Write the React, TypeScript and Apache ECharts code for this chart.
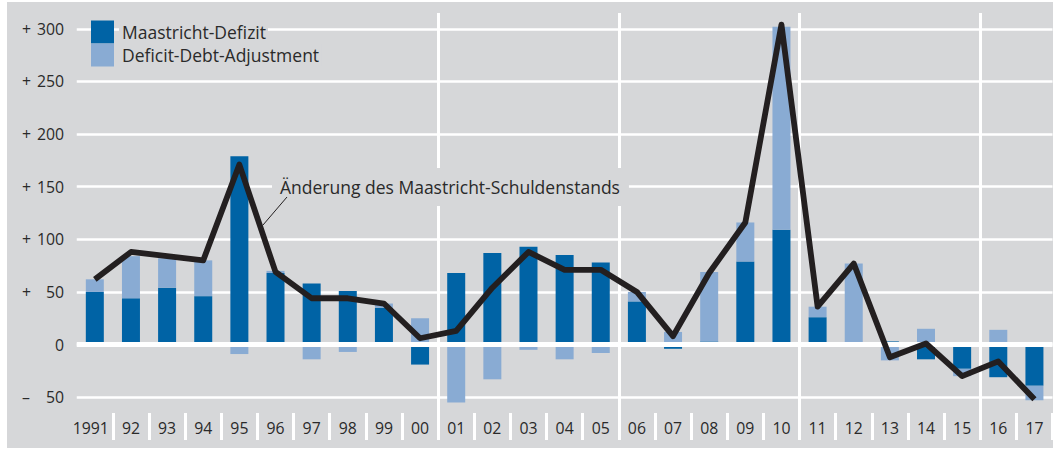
import React, { useEffect, useRef } from 'react';
import * as echarts from 'echarts';

const years = ['1991', '92', '93', '94', '95', '96', '97', '98', '99', '00', '01', '02', '03', '04', '05', '06', '07', '08', '09', '10', '11', '12', '13', '14', '15', '16', '17'];
const deficit = [50, 44, 54, 46, 179, 68, 58, 51, 35, -19, 68, 87, 93, 85, 78, 41, -4, 3, 79, 109, 26, 0, 3, -14, -23, -31, -39];
const adjustment = [12, 40, 28, 34, -9, 2, -14, -7, 4, 25, -55, -33, -5, -14, -8, 9, 12, 66, 37, 193, 10, 77, -15, 15, -7, 14, -14];
const debtChange = [62, 88, 84, 80, 171, 69, 44, 44, 39, 6, 13, 54, 88, 71, 71, 50, 8, 68, 116, 304, 36, 77, -12, 1, -30, -16, -52];
const yTicks = [-50, 0, 50, 100, 150, 200, 250, 300];

const seriesNames = ['Maastricht-Defizit', 'Deficit-Debt-Adjustment'];
const annotation = 'Änderung des Maastricht-Schuldenstands';

export default function App() {
  const ref = useRef<HTMLDivElement>(null);
  useEffect(() => {
    const chart = echarts.init(ref.current!, undefined, { renderer: 'svg' });
    const font = '"Open Sans", "Noto Sans", sans-serif';
    const textColor = '#2a2a2a';
    const bg = '#d6d7d9';
    const dark = '#0063a5';
    const light = '#89abd3';
    const axisFont = 15.8;
    const textFont = 17.5;
    chart.setOption({
      animation: false,
      backgroundColor: bg,
      textStyle: { fontFamily: font },
      grid: { left: 69.75, right: 0.5, top: 11, bottom: 35, containLabel: false },
      legend: {
        data: seriesNames,
        orient: 'vertical',
        left: 84,
        top: 18.5,
        itemWidth: 23,
        itemHeight: 23,
        itemGap: 0,
        icon: 'rect',
        padding: 0,
        textStyle: {
          fontFamily: font,
          fontSize: textFont,
          color: textColor,
          backgroundColor: bg,
          padding: [2, 2, 2, 3],
        },
      },
      xAxis: {
        type: 'category',
        data: years,
        boundaryGap: true,
        axisLine: { show: false, onZero: false },
        axisTick: {
          show: true,
          interval: (i: number) => i !== 0,
          length: 27,
          lineStyle: { color: '#ffffff', width: 3 },
        },
        axisLabel: {
          interval: 0,
          margin: 7,
          fontFamily: font,
          fontSize: axisFont,
          color: textColor,
          formatter: (v: string, i: number) => (i === 0 ? `{first|${v}}` : v),
          rich: {
            first: {
              fontFamily: font,
              fontSize: axisFont,
              color: textColor,
              padding: [0, 8, 0, 0],
            },
          },
        },
        splitLine: {
          show: true,
          interval: (i: number) => i > 0 && i % 5 === 0,
          showMaxLine: false,
          showMinLine: false,
          lineStyle: { color: '#ffffff', width: 3 },
        },
      },
      yAxis: {
        type: 'value',
        min: -65,
        max: 315,
        axisLine: { show: false },
        axisTick: { show: false, customValues: yTicks },
        axisLabel: {
          customValues: yTicks,
          margin: 12.75,
          fontFamily: font,
          fontSize: axisFont,
          color: textColor,
          formatter: (v: number) =>
            v === 0 ? '{n|0}' : `{s|${v > 0 ? '+' : '–'}}{n|${Math.abs(v)}}`,
          rich: {
            s: { width: 12, align: 'left', fontSize: axisFont, color: textColor, fontFamily: font },
            n: { width: 30, align: 'right', fontSize: axisFont, color: textColor, fontFamily: font },
          },
        },
        splitLine: {
          show: true,
          showMinLine: true,
          showMaxLine: true,
          lineStyle: { color: '#ffffff', width: 2.5 },
        },
      },
      series: [
        {
          name: seriesNames[0],
          type: 'bar',
          stack: 'total',
          barWidth: 18,
          data: deficit,
          itemStyle: { color: dark },
          z: 2,
          markLine: {
            silent: true,
            symbol: 'none',
            z: 3,
            label: { show: false },
            lineStyle: { color: '#ffffff', width: 5, type: 'solid' },
            data: [{ yAxis: 0 }],
          },
        },
        {
          name: seriesNames[1],
          type: 'bar',
          stack: 'total',
          barWidth: 18,
          data: adjustment,
          itemStyle: { color: light },
          z: 2,
        },
        {
          name: 'Änderung',
          type: 'line',
          data: debtChange,
          symbol: 'none',
          z: 4,
          lineStyle: { color: '#231f20', width: 5.8, join: 'round' },
        },
      ],
      graphic: [
        {
          type: 'text',
          x: 265,
          y: 166,
          z: 10,
          style: {
            text: annotation,
            fontFamily: font,
            fontSize: textFont,
            fill: textColor,
            backgroundColor: bg,
            padding: [10, 9, 10, 8],
          },
        },
        {
          type: 'line',
          z: 11,
          shape: { x1: 280, y1: 195, x2: 256, y2: 223 },
          style: { stroke: '#231f20', lineWidth: 1 },
        },
      ],
    });
    return () => chart.dispose();
  }, []);
  return (
    <div style={{ position: 'fixed', left: 0, top: 0, width: 1053, height: 450, background: '#ffffff' }}>
      <div ref={ref} style={{ position: 'absolute', left: 7, top: 2, width: 1046, height: 446 }} />
    </div>
  );
}
